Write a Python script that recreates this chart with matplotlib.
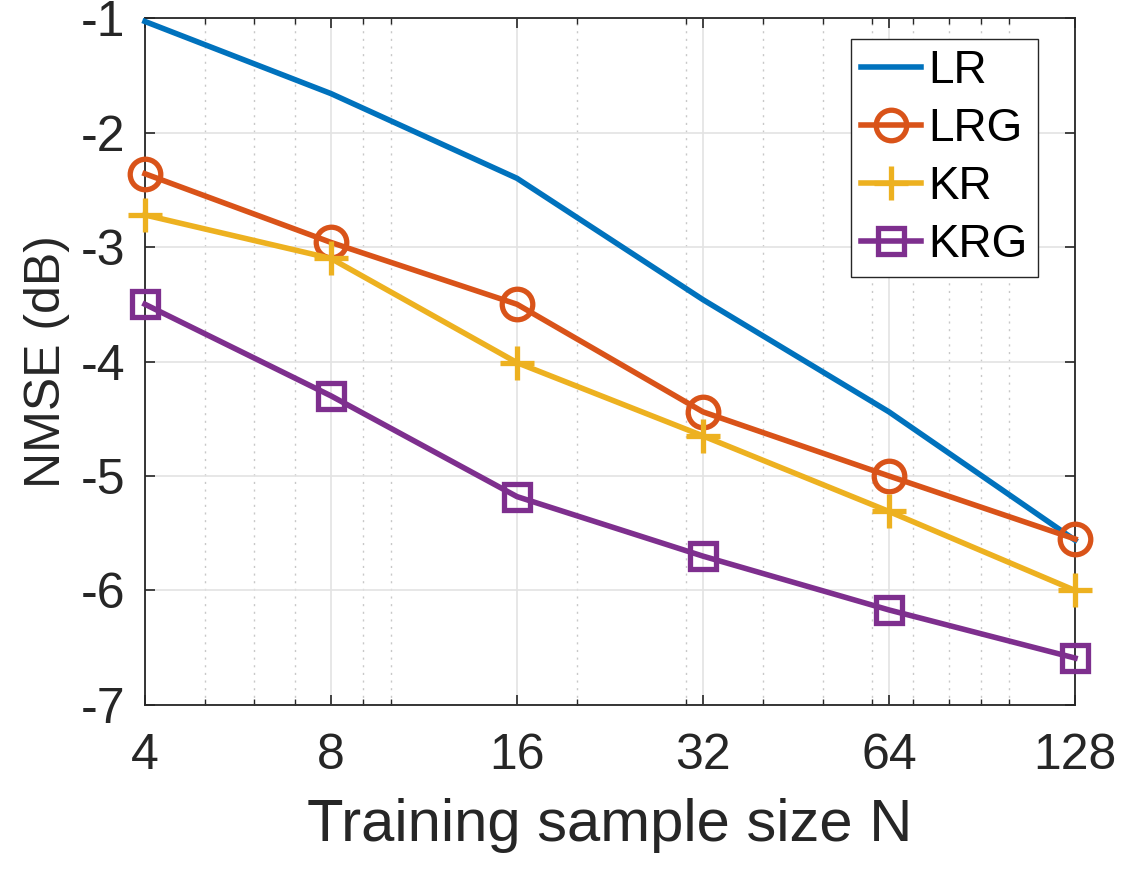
import matplotlib
matplotlib.use("Agg")
import matplotlib.pyplot as plt
from matplotlib.ticker import FixedLocator, NullFormatter

plt.rcParams['font.family'] = ['Liberation Sans', 'DejaVu Sans']

N = [4, 8, 16, 32, 64, 128]
LR = [-1.03, -1.66, -2.40, -3.46, -4.44, -5.56]
LRG = [-2.36, -2.96, -3.50, -4.44, -5.00, -5.55]
KR = [-2.72, -3.10, -4.01, -4.65, -5.31, -6.00]
KRG = [-3.50, -4.30, -5.18, -5.70, -6.17, -6.59]
xticks = [4, 8, 16, 32, 64, 128]
yticks = [-7, -6, -5, -4, -3, -2, -1]

fig = plt.figure(figsize=(11.29, 8.75), dpi=100)
ax = fig.add_axes([0.1284, 0.1943, 0.9522 - 0.1284, 0.9794 - 0.1943])

lw = 4.0
ax.plot(N, LR, color='#0072BD', lw=lw, label='LR', clip_on=False, zorder=3)
ax.plot(N, LRG, color='#D95319', lw=lw, marker='o', ms=22, mfc='none', mew=3.8,
        label='LRG', clip_on=False, zorder=3)
ax.plot(N, KR, color='#EDB120', lw=lw, marker='+', ms=25, mew=3.8,
        label='KR', clip_on=False, zorder=3)
ax.plot(N, KRG, color='#7E2F8E', lw=lw, marker='s', ms=19, mfc='none', mew=3.8,
        label='KRG', clip_on=False, zorder=3)

ax.set_xscale('log', base=2)
ax.set_xlim(4, 128)
ax.set_ylim(-7, -1)
ax.xaxis.set_major_locator(FixedLocator(xticks))
ax.set_xticklabels([str(t) for t in xticks])
minor = [5, 6, 7, 9, 10, 20, 30, 40, 50, 60, 70, 80, 90, 100]
ax.xaxis.set_minor_locator(FixedLocator(minor))
ax.xaxis.set_minor_formatter(NullFormatter())
ax.set_yticks(yticks)
ax.set_yticklabels([str(t) for t in yticks])

ax.grid(True, which='major', color='#e3e3e3', lw=1.2, ls='-')
ax.grid(True, which='minor', axis='x', color='#c8c8c8', lw=1.0, ls=(0, (1.5, 4)))
ax.set_axisbelow(True)

for s in ax.spines.values():
    s.set_color('#262626')
    s.set_linewidth(1.3)
ax.tick_params(which='both', direction='in', top=True, right=True, colors='#262626',
               labelsize=36, labelcolor='#262626')
ax.tick_params(which='major', length=7, width=1.2)
ax.tick_params(axis='x', which='major', pad=20)
ax.tick_params(axis='y', which='major', pad=14)
ax.tick_params(which='minor', length=4, width=1.0)

ax.set_xlabel('Training sample size N', fontsize=43, color='#262626', labelpad=14)
ax.set_ylabel('NMSE (dB)', fontsize=36, color='#262626', labelpad=8)

leg = ax.legend(loc='upper right', fontsize=33, handlelength=1.3, handletextpad=0.17,
                borderpad=0.22, labelspacing=0.3, fancybox=False, framealpha=1,
                edgecolor='#262626', bbox_to_anchor=(0.960, 0.969), borderaxespad=0)
leg.get_frame().set_linewidth(1.0)
leg.set_zorder(5)
for t in leg.get_texts():
    t.set_color('black')

fig.savefig('out.png', dpi=100)
